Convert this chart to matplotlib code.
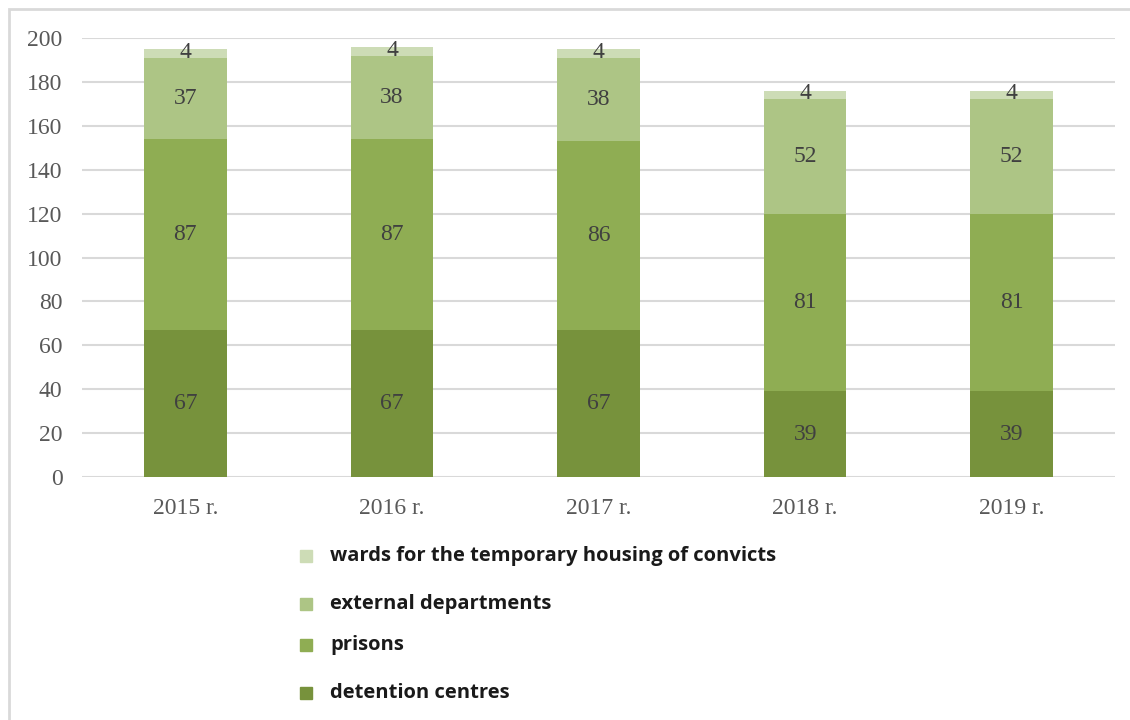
import numpy as np
import matplotlib.pyplot as plt
from matplotlib.patches import Rectangle

years = ['2015 r.', '2016 r.', '2017 r.', '2018 r.', '2019 r.']
detention = [67, 67, 67, 39, 39]
prisons = [87, 87, 86, 81, 81]
external = [37, 38, 38, 52, 52]
wards = [4, 4, 4, 4, 4]

series = [
    ('detention centres', detention, '#77923c'),
    ('prisons', prisons, '#8fad53'),
    ('external departments', external, '#adc585'),
    ('wards for the temporary housing of convicts', wards, '#cddcb6'),
]

fig = plt.figure(figsize=(11.3, 7.2), dpi=100)
ax = fig.add_axes([0.0726, 0.3375, 0.9142, 0.6097])

x = np.arange(len(years))
bottom = np.zeros(len(years))
for name, vals, col in series:
    vals = np.array(vals, dtype=float)
    ax.bar(x, vals, 0.4, bottom=bottom, color=col, zorder=2)
    for xi, b, v in zip(x, bottom, vals):
        yc = b + v / 2 if v > 5 else b + v / 2 + 0.5
        ax.text(xi, yc, str(int(v)), ha='center', va='center',
                family='Liberation Serif', fontsize=17, color='#404040', zorder=3)
    bottom += vals

ax.set_xlim(-0.5, len(years) - 0.5)
ax.set_ylim(0, 200)
ax.set_yticks(np.arange(0, 201, 20))
ax.yaxis.grid(True, color='#d9d9d9', linewidth=1.5, zorder=0)
ax.set_axisbelow(True)
for s in ax.spines.values():
    s.set_visible(False)
ax.tick_params(length=0)
ax.tick_params(axis='y', pad=14)
ax.tick_params(axis='x', pad=15)
ax.set_xticks(x)
ax.set_xticklabels(years)
for lab in ax.get_xticklabels() + ax.get_yticklabels():
    lab.set_family('Liberation Serif')
    lab.set_fontsize(17)
    lab.set_color('#595959')

# outer frame
fig.patches.append(Rectangle((9 / 1130, -0.1), 1.2, 1 - 9 / 720 + 0.1,
                             transform=fig.transFigure, fill=False,
                             edgecolor='#d9d9d9', linewidth=2))

# legend, top to bottom
leg_y = [556, 604, 645, 693]
leg_items = series[::-1]
for (name, vals, col), yy in zip(leg_items, leg_y):
    fy = 1 - yy / 720
    fig.text(330 / 1130, fy, name, ha='left', va='center',
             family='Open Sans', fontweight='bold', fontsize=14.5, color='#1a1a1a')
    fig.patches.append(Rectangle((300 / 1130, fy - 6 / 720), 12 / 1130, 12 / 720,
                                 transform=fig.transFigure, color=col))

fig.savefig('out.png', dpi=100)
